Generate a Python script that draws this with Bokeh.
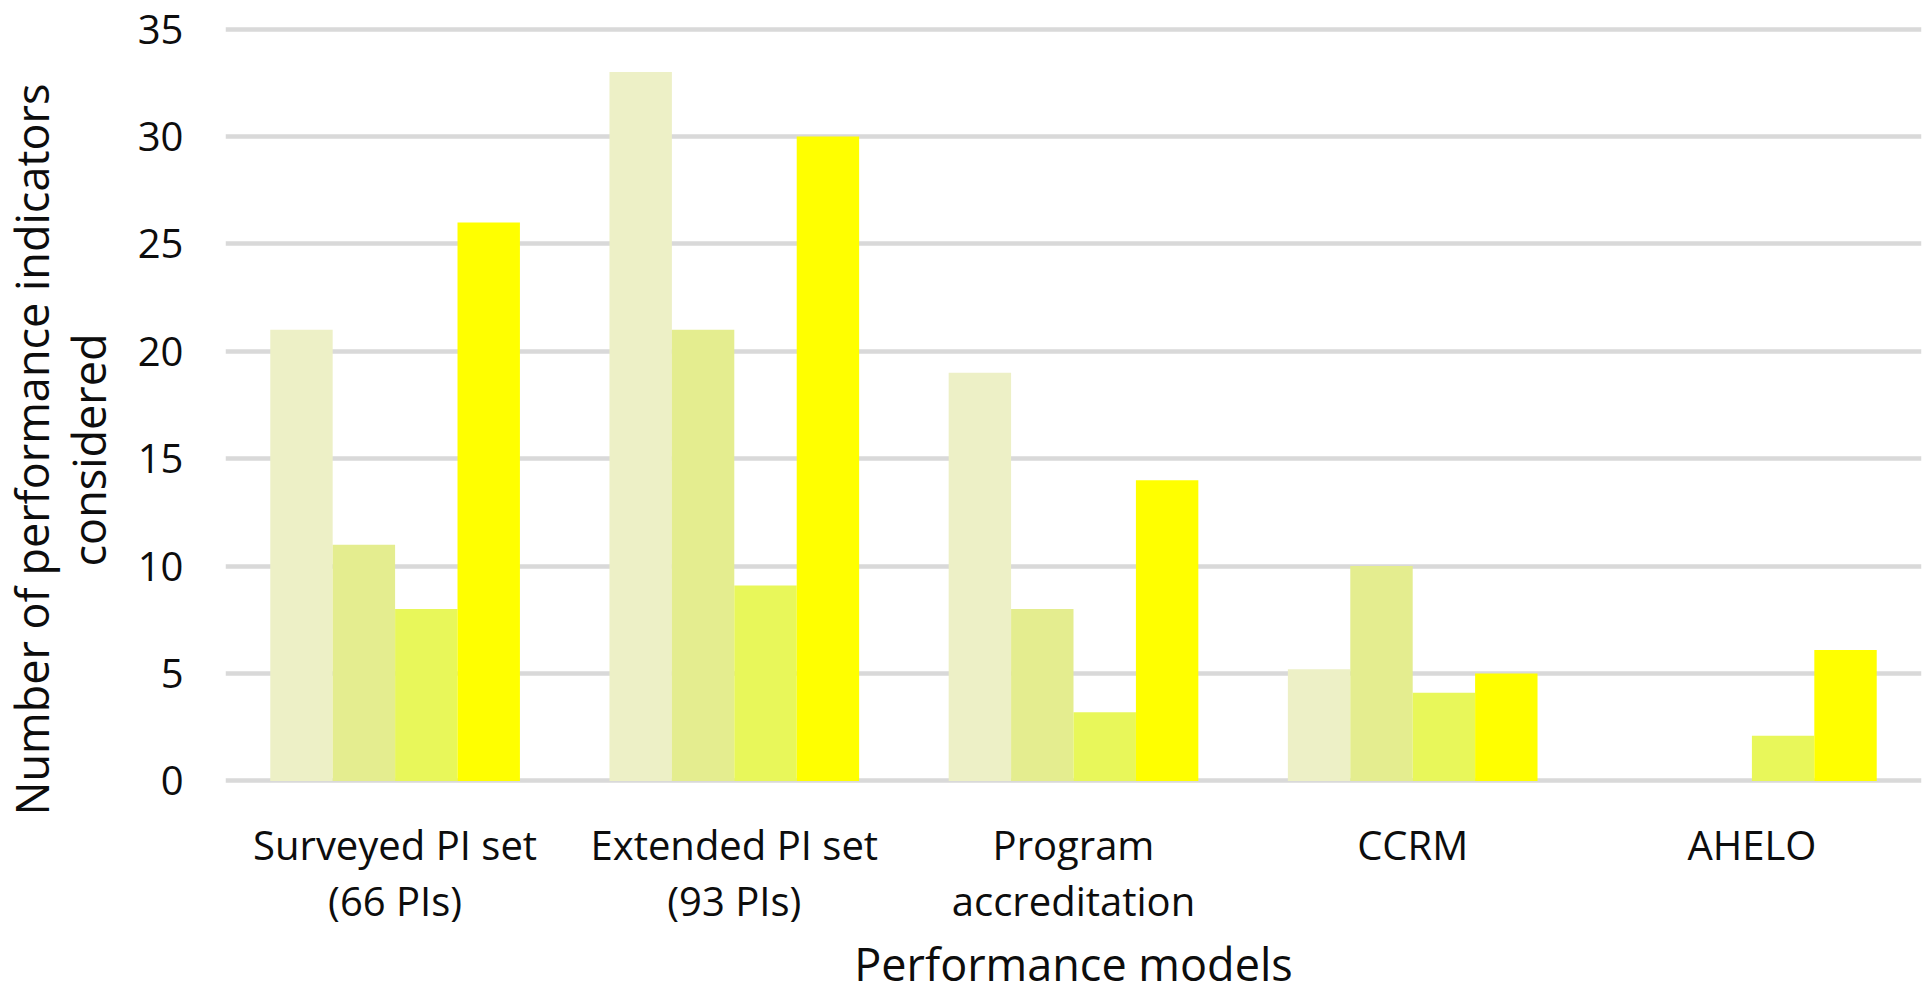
from bokeh.plotting import figure
from bokeh.models import FactorRange, Range1d, FixedTicker, ColumnDataSource, Title
from bokeh.transform import dodge
from bokeh.embed import file_html
from bokeh.resources import INLINE

# ---- data ----
models = ["Surveyed PI set\n(66 PIs)", "Extended PI set\n(93 PIs)",
          "Program\naccreditation", "CCRM", "AHELO"]
series_a = [21, 33, 19, 5.2, 0]
series_b = [11, 21, 8, 10, 0]
series_c = [8, 9.1, 3.2, 4.1, 2.1]
series_d = [26, 30, 14, 5, 6.1]
y_ticks = [0, 5, 10, 15, 20, 25, 30, 35]
x_title = "Performance models"
y_title_outer = "Number of performance indicators"
y_title_inner = "considered"

colors = ["#EDF0C6", "#E4ED8F", "#E8F75A", "#FFFF00"]
FONT = "Open Sans"
TXT = "#0D0D0D"

p = figure(x_range=FactorRange(factors=models, range_padding=0),
           y_range=Range1d(-0.12, 35.12),
           width=1930, height=997,
           output_backend="svg", toolbar_location=None,
           min_border_left=225, min_border_right=9,
           min_border_top=26, min_border_bottom=214)

bar_w = 0.184
for i, (vals, col) in enumerate(zip([series_a, series_b, series_c, series_d], colors)):
    src = ColumnDataSource(dict(model=models, v=vals))
    p.vbar(x=dodge("model", (i - 1.5) * bar_w, range=p.x_range), top="v",
           width=bar_w, source=src, fill_color=col, line_color=None)

p.outline_line_color = None
p.xgrid.grid_line_color = None
p.ygrid.grid_line_color = "#D9D9D9"
p.ygrid.grid_line_width = 4.5

p.yaxis.ticker = FixedTicker(ticks=y_ticks)
p.yaxis.axis_line_color = None
p.yaxis.major_tick_line_color = None
p.yaxis.minor_tick_line_color = None
p.yaxis.major_tick_out = 0
p.yaxis.major_label_standoff = 42
p.yaxis.major_label_text_font = FONT
p.yaxis.major_label_text_font_size = "40px"
p.yaxis.major_label_text_color = TXT

p.xaxis.axis_line_color = None
p.xaxis.major_tick_line_color = None
p.xaxis.major_tick_out = 0
p.xaxis.major_label_standoff = 33
p.xaxis.major_label_text_font = FONT
p.xaxis.major_label_text_font_size = "40px"
p.xaxis.major_label_text_line_height = 1.02
p.xaxis.major_label_text_color = TXT
p.xaxis.axis_label = x_title
p.xaxis.axis_label_standoff = 2
p.xaxis.axis_label_text_font = FONT
p.xaxis.axis_label_text_font_size = "45px"
p.xaxis.axis_label_text_font_style = "normal"
p.xaxis.axis_label_text_color = TXT


def side_title(text, offset, standoff):
    kw = dict(text=text, align="left", offset=offset,
              text_font=FONT, text_font_size="45px", text_font_style="normal",
              text_color=TXT)
    try:
        return Title(standoff=standoff, **kw)
    except Exception:
        return Title(standoff=0, **kw)


# two-line y title beside the axis, centred a little below the plot centre
p.add_layout(side_title(y_title_inner, 217, 31), "left")
p.add_layout(side_title(y_title_outer, -32, -43), "left")

open("out.html", "w").write(file_html(p, INLINE))
